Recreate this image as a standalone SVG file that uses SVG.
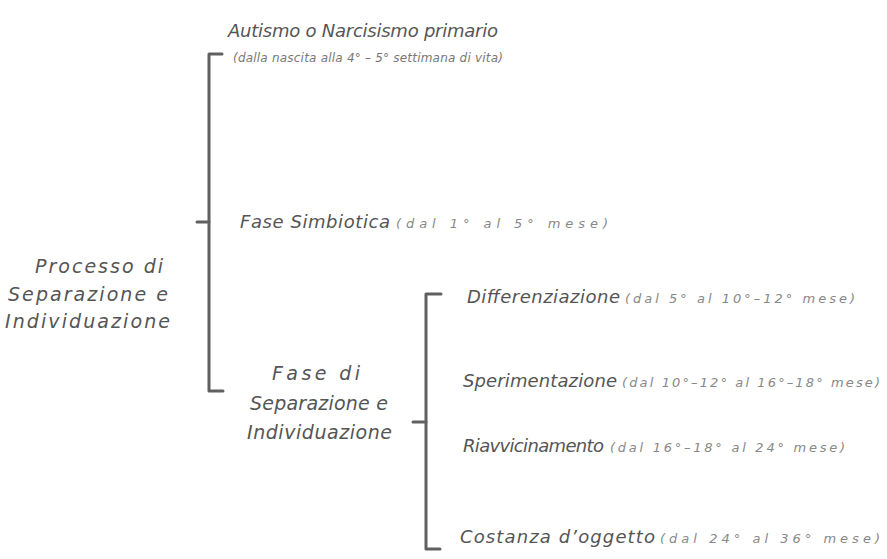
<svg xmlns="http://www.w3.org/2000/svg" width="887" height="559" viewBox="0 0 887 559">
<style>
.br{fill:none;stroke:#606060;stroke-width:3;stroke-linejoin:round;stroke-linecap:round}
.t{font-family:"DejaVu Sans","Liberation Sans",sans-serif;font-style:italic;fill:#555;font-weight:300}
.b{font-size:18px}
.r{font-size:19px}
.s{font-size:13px;fill:#888}
.m{font-size:12px;fill:#777}
</style>
<rect width="887" height="559" fill="#ffffff"/>
<g id="connectors">
<path class="br" d="M222,54 L209,54 L209,391 L223,391"/>
<path class="br" d="M197,222 L209,222"/>
<path class="br" d="M441,294 L426,294 L426,549 L440,549"/>
<path class="br" d="M413,422 L426,422"/>
</g>
<g id="root">
<text class="t r" x="35" y="273" textLength="128" lengthAdjust="spacing">Processo di</text>
<text class="t r" x="8" y="301" textLength="160" lengthAdjust="spacing">Separazione e</text>
<text class="t r" x="5" y="328" textLength="165" lengthAdjust="spacing">Individuazione</text>
</g>
<g id="autismo">
<text class="t b" x="228" y="37" textLength="270" lengthAdjust="spacing">Autismo o Narcisismo primario</text>
<text class="t m" x="233" y="62" textLength="270" lengthAdjust="spacing">(dalla nascita alla 4° – 5° settimana di vita)</text>
</g>
<g id="simbiotica">
<text class="t b" x="240" y="228" textLength="150" lengthAdjust="spacing">Fase Simbiotica</text>
<text class="t s" x="396" y="228" textLength="212" lengthAdjust="spacing">(dal 1° al 5° mese)</text>
</g>
<g id="fase-sep">
<text class="t r" x="272" y="380" textLength="88" lengthAdjust="spacing">Fase di</text>
<text class="t r" x="250" y="410" textLength="138" lengthAdjust="spacing">Separazione e</text>
<text class="t r" x="247" y="439" textLength="145" lengthAdjust="spacing">Individuazione</text>
</g>
<g id="differenziazione">
<text class="t b" x="467" y="303" textLength="153" lengthAdjust="spacing">Differenziazione</text>
<text class="t s" x="625" y="303" textLength="230" lengthAdjust="spacing">(dal 5° al 10°–12° mese)</text>
</g>
<g id="sperimentazione">
<text class="t b" x="463" y="387" textLength="154" lengthAdjust="spacing">Sperimentazione</text>
<text class="t s" x="622" y="387" textLength="258" lengthAdjust="spacing">(dal 10°–12° al 16°–18° mese)</text>
</g>
<g id="riavvicinamento">
<text class="t b" x="463" y="452" textLength="141" lengthAdjust="spacing">Riavvicinamento</text>
<text class="t s" x="610" y="452" textLength="235" lengthAdjust="spacing">(dal 16°–18° al 24° mese)</text>
</g>
<g id="costanza">
<text class="t b" x="460" y="543" textLength="195" lengthAdjust="spacing">Costanza d’oggetto</text>
<text class="t s" x="660" y="543" textLength="220" lengthAdjust="spacing">(dal 24° al 36° mese)</text>
</g>
</svg>
